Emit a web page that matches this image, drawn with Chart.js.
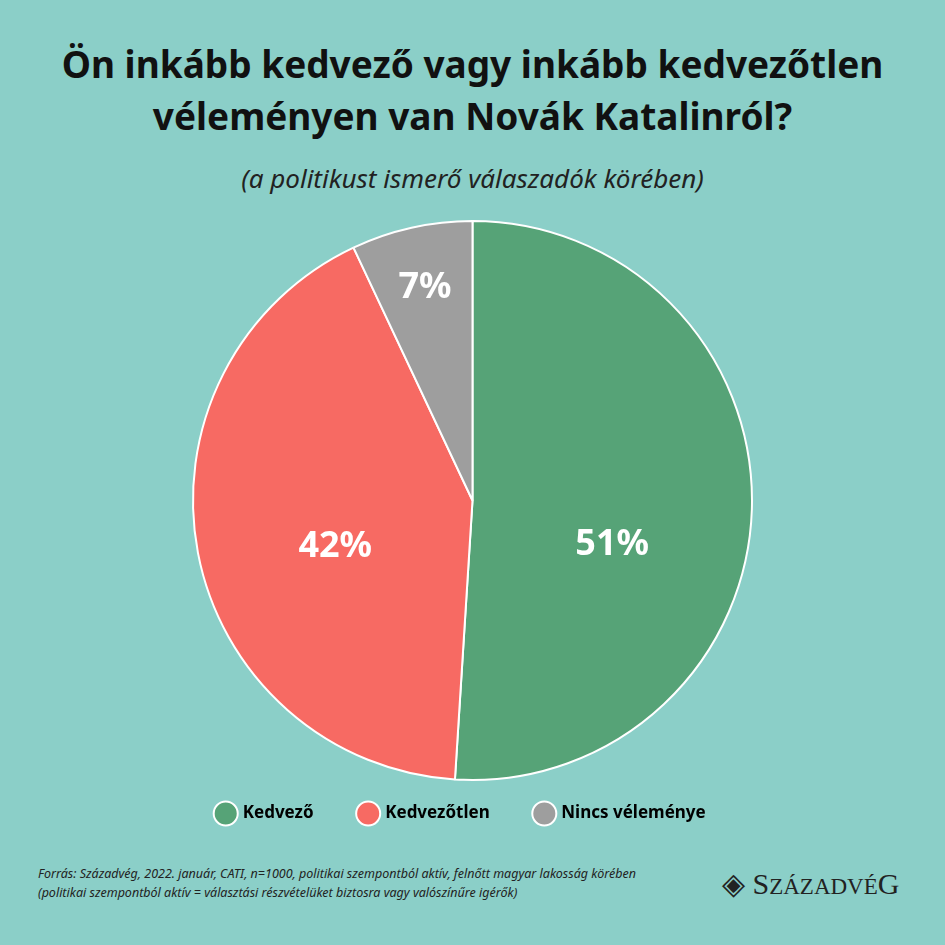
<!DOCTYPE html>
<html><head><meta charset="utf-8">
<script src="https://cdn.jsdelivr.net/npm/chart.js@4/dist/chart.umd.min.js"></script>
<style>
body{margin:0;width:945px;height:945px;background:#8bcfc8;font-family:"Noto Sans",sans-serif;position:relative;overflow:hidden}
#t{position:absolute;top:38px;left:0;width:945px;text-align:center;font-weight:bold;font-size:37px;line-height:52px;color:#111}
#s{position:absolute;top:160px;left:0;width:945px;text-align:center;font-style:italic;font-size:26px;color:#222}
#c{position:absolute;left:0;top:214px;width:945px;height:640px}
#f{position:absolute;left:38px;top:864px;font-style:italic;font-size:12.5px;line-height:19px;color:#222}
#logo{position:absolute;left:722px;top:866px;font-family:"Liberation Serif",serif;font-size:30px;color:#222}
</style></head><body>
<div id="t">Ön inkább kedvező vagy inkább kedvezőtlen<br>véleményen van Novák Katalinról?</div>
<div id="s">(a politikust ismerő válaszadók körében)</div>
<div id="c"><canvas id="cv"></canvas></div>
<div id="f">Forrás: Századvég, 2022. január, CATI, n=1000, politikai szempontból aktív, felnőtt magyar lakosság körében<br>(politikai szempontból aktív = választási részvételüket biztosra vagy valószínűre igérők)</div>
<div id="logo">◈ S<span style="font-size:23px">ZÁZADVÉ</span>G</div>
<script>
const categories=["Kedvező","Kedvezőtlen","Nincs véleménye"];
const values=[51,42,7];
const colors=["#56a377","#f76a63","#9e9e9e"];
const labelPos=[0.5,0.5,0.78];
const labelDy=[40,20,0];
const lbl={id:"lbl",afterDatasetsDraw(ch){const ctx=ch.ctx;ch.getDatasetMeta(0).data.forEach((a,i)=>{const m=(a.startAngle+a.endAngle)/2,r=a.outerRadius*labelPos[i];ctx.save();ctx.fillStyle="#fff";ctx.font="bold 36px 'Noto Sans'";ctx.textAlign="center";ctx.textBaseline="middle";ctx.fillText(values[i]+"%",a.x+Math.cos(m)*r,a.y+Math.sin(m)*r+labelDy[i]);ctx.restore();});}};
new Chart(document.getElementById("cv"),{type:"pie",data:{labels:categories,datasets:[{data:values,backgroundColor:colors,borderColor:"#fff",borderWidth:2}]},
options:{responsive:true,maintainAspectRatio:false,animation:false,layout:{padding:{top:6,bottom:0}},
plugins:{tooltip:{enabled:false},legend:{position:"bottom",labels:{usePointStyle:true,pointStyle:"circle",boxWidth:34,boxHeight:34,padding:24,color:"#111",font:{size:17,weight:"bold",family:"Noto Sans"},generateLabels:(c)=>categories.map((t,i)=>({text:t+"     ",fillStyle:colors[i],strokeStyle:"#fff",lineWidth:2,pointStyle:"circle",index:i}))}}}},
plugins:[lbl,{id:"lp",beforeInit(ch){const f=ch.legend.fit;ch.legend.fit=function(){f.bind(this)();this.height+=22;};}}]});
</script></body></html>
